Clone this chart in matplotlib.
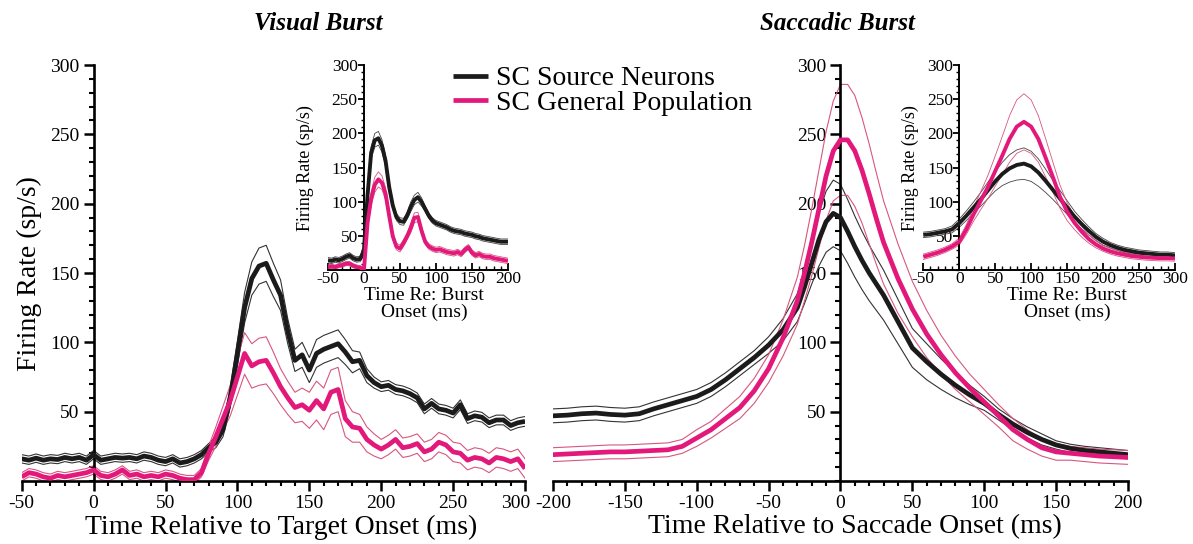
import matplotlib
matplotlib.use("Agg")
import matplotlib.pyplot as plt
from matplotlib.ticker import MultipleLocator
import matplotlib.transforms as mtransforms
import numpy as np

plt.rcParams['font.family'] = ['Liberation Serif', 'DejaVu Serif']
plt.rcParams['axes.unicode_minus'] = False

BLACK = '#1b1b1b'
PINK = '#e3187b'
PINK_THIN = '#d8567f'

# ---- visual burst, aligned on target onset (ms) ----
t_vis = list(range(-50, 301, 5))
src_vis = [16, 15, 16.5, 15, 16, 15.5, 17, 16, 17, 15,
           19, 15, 16, 17, 16.5, 17, 16, 18, 17, 15,
           14, 16, 13, 14, 16, 19, 24, 28, 37, 60,
           92, 125, 146, 155, 157, 145, 134, 108, 87, 91,
           80, 92, 95, 97, 99, 93, 86, 87, 76, 71,
           68, 69, 66, 65, 63, 60, 52, 56, 52, 51,
           49, 55, 45, 47, 46, 42, 44, 44, 40, 42, 43]
src_vis_sem = [3] * 26 + [3, 4, 5, 7,
                          9, 11, 12, 13, 13, 12, 11, 9, 8, 9,
                          9, 10, 10, 10, 10, 9, 8, 6, 5, 4] + [3.5] * 21
gen_vis = [3, 6, 5, 3, 2, 4, 3, 4, 5, 6,
           8, 4, 3, 5, 8, 4, 5, 3, 4, 3,
           5, 4, 2, 1, 1, 6, 20, 32, 45, 58,
           75, 92, 83, 86, 87, 78, 68, 60, 53, 55,
           51, 58, 52, 64, 66, 45, 39, 38, 30, 26,
           23, 26, 30, 24, 25, 27, 21, 23, 28, 26,
           21, 20, 15, 17, 16, 13, 17, 16, 14, 16, 9]
gen_vis_sem = [3] * 26 + [5, 7, 9, 11,
                          13, 15, 16, 17, 17, 15, 13, 12, 11, 12,
                          13, 14, 15, 16, 16, 13, 11, 10, 9, 8] + [7] * 21

# ---- visual burst inset, aligned on burst onset ----
t_vb = list(range(-50, 201, 5))
src_vb = [15, 14, 16, 15, 17, 20, 22, 18, 16, 17,
          30, 110, 172, 190, 193, 182, 160, 122, 95, 78,
          72, 71, 80, 93, 103, 107, 100, 90, 80, 73,
          69, 67, 65, 63, 60, 58, 57, 56, 54, 53,
          52, 50, 49, 47, 46, 45, 44, 43, 42, 42, 42]
src_vb_sem = [4] * 11 + [7, 9, 10, 10, 9, 8, 7] + [5] * 5 + [7, 7, 7, 6] + [4] * 24
gen_vb = [5, 6, 5, 7, 8, 10, 10, 7, 5, 4,
          1, 70, 105, 125, 133, 128, 112, 80, 50, 35,
          32, 40, 50, 62, 77, 78, 58, 42, 35, 32,
          30, 31, 29, 27, 26, 25, 27, 24, 30, 34,
          26, 22, 24, 21, 20, 20, 18, 17, 16, 15, 14]
gen_vb_sem = [3] * 11 + [8, 10, 11, 11, 10, 9, 7] + [5] * 5 + [7, 7, 7, 6] + [4] * 24

# ---- saccadic burst, aligned on saccade onset ----
t_sac = [-200, -190, -180, -170, -160, -150, -140, -130, -120, -110,
         -100, -90, -80, -70, -60, -50, -40, -30, -25, -20,
         -15, -10, -5, 0, 5, 10, 15, 20, 25, 30,
         40, 50, 60, 70, 80, 90, 100, 110, 120, 130,
         140, 150, 160, 170, 180, 190, 200]
src_sac = [47, 47.5, 48.5, 49, 48, 47.5, 48.5, 52, 55, 58,
           61, 66, 73, 81, 89, 98, 109, 125, 140, 157,
           174, 187, 193, 190, 180, 169, 159, 150, 142, 134,
           115, 96, 86, 77, 69, 62, 56, 48, 41, 35,
           30, 26, 23.5, 22, 21, 20, 19]
src_sac_sem = [5, 5, 5, 5, 5, 5, 5, 5, 5, 5,
               5, 5, 5, 5, 5, 6, 8, 10, 12, 15,
               19, 22, 24, 24, 23, 22, 21, 20, 19, 18,
               16, 14, 13, 11, 9, 7, 5, 4, 4, 4,
               4, 3, 3, 3, 3, 3, 3]
gen_sac = [19, 19.5, 20, 20.5, 21, 21, 21.5, 22, 22.5, 25,
           31, 37, 45, 53, 65, 81, 103, 130, 150, 172,
           196, 220, 238, 246, 246, 238, 224, 207, 189, 172,
           146, 124, 106, 91, 78, 67, 57, 47, 37, 30,
           24, 21, 20, 19, 18, 17.5, 17]
gen_sac_sem = [5, 5, 5, 5, 5, 5, 5, 5, 5, 5,
               6, 6, 7, 8, 9, 10, 13, 17, 20, 24,
               28, 32, 36, 40, 40, 40, 38, 36, 33, 30,
               25, 20, 17, 14, 12, 10, 9, 8, 8, 7,
               6, 6, 5, 5, 5, 5, 5]

# ---- saccadic burst inset, aligned on burst onset ----
t_sb = list(range(-50, 301, 10))
src_sb = [52, 53, 55, 57, 60, 69, 80, 92, 104, 117,
          130, 141, 149, 154, 156, 152, 143, 131, 118, 105,
          92, 79, 68, 58, 49, 42, 37, 33, 30, 28,
          26, 25, 24, 23, 23, 22]
src_sb_sem = [4, 4, 4, 4, 5, 6, 7, 8, 10, 12,
              14, 17, 20, 22, 23, 22, 20, 17, 14, 12,
              10, 8, 7, 6, 5, 5, 4, 4, 4, 4,
              4, 4, 4, 4, 4, 4]
gen_sb = [20, 23, 26, 30, 35, 42, 60, 82, 102, 122,
          145, 168, 192, 210, 217, 210, 192, 165, 137, 108,
          86, 70, 57, 46, 38, 32, 28, 25, 23, 21,
          20, 19, 18.5, 18, 18, 17.5]
gen_sb_sem = [4, 4, 4, 4, 4, 5, 7, 10, 13, 17,
              22, 28, 34, 39, 41, 39, 34, 28, 22, 17,
              13, 10, 8, 6, 5, 4, 4, 4, 4, 4,
              4, 4, 4, 4, 4, 4]

ylabel = 'Firing Rate (sp/s)'


def draw_series(ax, t, mean, sem, color, thin_color, lw, thin_lw):
    t = np.asarray(t, float)
    mean = np.asarray(mean, float)
    sem = np.asarray(sem, float)
    ax.plot(t, mean + sem, color=thin_color, lw=thin_lw, zorder=2)
    ax.plot(t, mean - sem, color=thin_color, lw=thin_lw, zorder=2)
    line, = ax.plot(t, mean, color=color, lw=lw, zorder=3,
                    solid_capstyle='butt')
    return line


def style_axes(ax, xlim, xticks, size, spine_w, inset=False):
    ax.set_xlim(*xlim)
    ax.set_ylim(0, 300)
    ax.set_facecolor('none')
    for s in ('top', 'right'):
        ax.spines[s].set_visible(False)
    ax.spines['left'].set_position(('data', 0))
    ax.spines['left'].set_linewidth(spine_w)
    ax.spines['bottom'].set_linewidth(spine_w)
    ax.set_xticks(xticks)
    ax.set_yticks(list(range(50, 301, 50)))
    ax.xaxis.set_minor_locator(MultipleLocator(10))
    ax.yaxis.set_minor_locator(MultipleLocator(10))
    if inset:
        ax.tick_params(axis='x', which='major', direction='in', length=5,
                       width=1.3, labelsize=size, pad=0.5)
        ax.tick_params(axis='x', which='minor', direction='in', length=3,
                       width=1.0)
        ax.tick_params(axis='y', which='major', direction='out', length=4,
                       width=1.3, labelsize=size, pad=0.5)
        ax.tick_params(axis='y', which='minor', direction='out', length=2.5,
                       width=1.0)
    else:
        ax.tick_params(axis='both', which='major', direction='out', length=7,
                       width=1.8, labelsize=size, pad=3)
        ax.tick_params(axis='both', which='minor', direction='out', length=3.5,
                       width=1.5)


fig = plt.figure(figsize=(11.93, 5.44), dpi=100)

# main panels
ax_vis = fig.add_axes([0.0182, 0.1158, 0.4219, 0.7647])
ax_sac = fig.add_axes([0.4635, 0.1158, 0.4820, 0.7647])
# insets
ax_vb = fig.add_axes([0.2749, 0.5028, 0.1509, 0.3778])
ax_sb = fig.add_axes([0.7739, 0.5028, 0.2110, 0.3778])

h_src = draw_series(ax_vis, t_vis, src_vis, src_vis_sem, BLACK, '#333333', 3.4, 0.8)
h_gen = draw_series(ax_vis, t_vis, gen_vis, gen_vis_sem, PINK, PINK_THIN, 3.4, 0.8)
draw_series(ax_sac, t_sac, src_sac, src_sac_sem, BLACK, '#333333', 3.4, 0.8)
draw_series(ax_sac, t_sac, gen_sac, gen_sac_sem, PINK, PINK_THIN, 3.4, 0.8)
draw_series(ax_vb, t_vb, src_vb, src_vb_sem, BLACK, '#444444', 2.8, 0.6)
draw_series(ax_vb, t_vb, gen_vb, gen_vb_sem, PINK, PINK_THIN, 2.8, 0.6)
draw_series(ax_sb, t_sb, src_sb, src_sb_sem, BLACK, '#444444', 2.8, 0.6)
draw_series(ax_sb, t_sb, gen_sb, gen_sb_sem, PINK, PINK_THIN, 2.8, 0.6)

style_axes(ax_vis, (-50, 300), list(range(-50, 301, 50)), 14, 1.9)
style_axes(ax_sac, (-200, 200), list(range(-200, 201, 50)), 14, 1.9)
style_axes(ax_vb, (-50, 200), list(range(-50, 201, 50)), 12.5, 1.4, inset=True)
style_axes(ax_sb, (-50, 300), list(range(-50, 301, 50)), 12.5, 1.4, inset=True)

# the last label of the left panel sits left of its tick, as in the original
last = ax_vis.get_xticklabels()[-1]
last.set_transform(last.get_transform() +
                   mtransforms.ScaledTranslation(-9 / 100, 0, fig.dpi_scale_trans))

for ax, xc in ((ax_vb, 0.533), (ax_sb, 0.571)):
    ax.set_xlabel('Time Re: Burst\nOnset (ms)', fontsize=14, labelpad=1,
                  linespacing=0.95)
    ax.xaxis.set_label_coords(xc, -0.082, transform=ax.transAxes)
    ax.xaxis.label.set_va('top')
ax_vb.text(-0.128, 0.5, ylabel, transform=ax_vb.transAxes, rotation=90,
           ha='center', va='center', fontsize=13)
ax_sb.text(-0.05, 0.5, ylabel, transform=ax_sb.transAxes, rotation=90,
           ha='center', va='center', fontsize=13)

# titles and labels
fig.text(318 / 1193, 1 - 23 / 544, 'Visual Burst', ha='center', va='center',
         fontsize=18, fontweight='bold', fontstyle='italic')
fig.text(838 / 1193, 1 - 23 / 544, 'Saccadic Burst', ha='center', va='center',
         fontsize=18, fontweight='bold', fontstyle='italic')
fig.text(29 / 1193, 1 - 274 / 544, ylabel, rotation=90, ha='center',
         va='center', fontsize=20)
fig.text(281 / 1193, 1 - 527 / 544, 'Time Relative to Target Onset (ms)',
         ha='center', va='center', fontsize=20)
fig.text(855 / 1193, 1 - 527 / 544, 'Time Relative to Saccade Onset (ms)',
         ha='center', va='center', fontsize=20)

fig.legend([h_src, h_gen], ['SC Source Neurons', 'SC General Population'],
           loc='upper left', bbox_to_anchor=(453 / 1193, 1 - 66 / 544),
           frameon=False, fontsize=20, handlelength=1.25, handletextpad=0.3,
           labelspacing=-0.05, borderpad=0, borderaxespad=0)

fig.savefig('out.png', dpi=100)
